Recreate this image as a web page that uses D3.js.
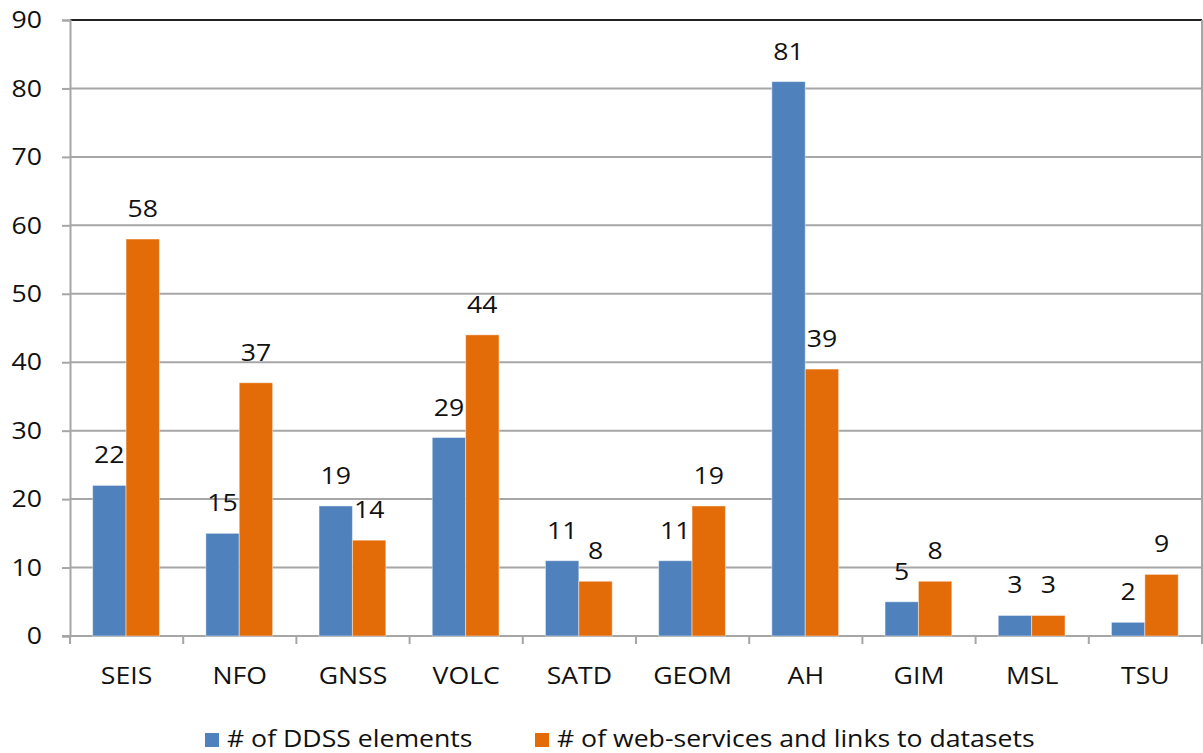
<!DOCTYPE html>
<html>
<head>
<meta charset="utf-8">
<script src="https://cdn.jsdelivr.net/npm/d3@7"></script>
<style>
  html, body { margin: 0; padding: 0; background: #fff; }
  svg text { font-family: "Open Sans", Lato, sans-serif; fill: #111; }
</style>
</head>
<body>
<svg id="chart" width="1203" height="753"></svg>
<script>
// Categories and series
const categories = ["SEIS", "NFO", "GNSS", "VOLC", "SATD", "GEOM", "AH", "GIM", "MSL", "TSU"];
const ddssElements = [22, 15, 19, 29, 11, 11, 81, 5, 3, 2];
const webServices = [58, 37, 14, 44, 8, 19, 39, 8, 3, 9];
const seriesNames = ["# of DDSS elements", "# of web-services and links to datasets"];
const seriesColors = ["#4F81BD", "#E36C09"];
const yTicks = [0, 10, 20, 30, 40, 50, 60, 70, 80, 90];

const fontSize = 24;
const widen = 1.11; // horizontal stretch of the lettering
const svg = d3.select("#chart");
const plotLeft = 70, plotRight = 1202, plotTop = 20, plotBottom = 636;

// Place a text at (px, py) and stretch it horizontally around its anchor
function placeText(sel, px, py) {
  sel.attr("x", 0).attr("y", 0)
    .attr("transform", (d, i) => `translate(${px(d, i)},${py(d, i)}) scale(${widen},1)`);
}

const x = d3.scaleBand().domain(categories).range([plotLeft, plotRight]).padding(0);
const bw = x.bandwidth();
const x1 = d3.scaleBand().domain([0, 1]).range([bw * 0.2, bw * 0.79]).padding(0);
const y = d3.scaleLinear().domain([0, 90]).range([plotBottom, plotTop]);

// Horizontal gridlines
svg.append("g").selectAll("line").data(yTicks.filter(t => t > 0)).join("line")
  .attr("x1", plotLeft).attr("x2", plotRight)
  .attr("y1", d => y(d)).attr("y2", d => y(d))
  .attr("stroke", d => d === 90 ? "#222" : "#a6a6a6")
  .attr("stroke-width", 2);

// Right border of the plot area
svg.append("line")
  .attr("x1", plotRight).attr("x2", plotRight).attr("y1", plotTop).attr("y2", plotBottom)
  .attr("stroke", "#a6a6a6").attr("stroke-width", 2);

// Y axis
const yAxis = svg.append("g").attr("transform", `translate(${plotLeft},0)`)
  .call(d3.axisLeft(y).tickValues(yTicks).tickSize(8).tickPadding(20));
yAxis.select(".domain").attr("stroke", "#a6a6a6").attr("stroke-width", 2);
yAxis.selectAll(".tick line").attr("stroke", "#a6a6a6").attr("stroke-width", 2);
yAxis.selectAll(".tick text").attr("font-size", fontSize).attr("fill", "#111")
  .style("font-family", "'Open Sans', sans-serif")
  .attr("transform", `translate(-28,0) scale(${widen},1)`).attr("x", 0);

// X axis with ticks at category boundaries
const xAxisG = svg.append("g");
xAxisG.append("line").attr("x1", plotLeft - 8).attr("x2", plotRight)
  .attr("y1", plotBottom).attr("y2", plotBottom)
  .attr("stroke", "#a6a6a6").attr("stroke-width", 2);
const boundaries = categories.map(c => x(c)).concat([plotRight]);
xAxisG.selectAll("line.tick").data(boundaries).join("line").attr("class", "tick")
  .attr("x1", d => d).attr("x2", d => d)
  .attr("y1", plotBottom).attr("y2", plotBottom + 8)
  .attr("stroke", "#a6a6a6").attr("stroke-width", 2);
xAxisG.selectAll("text").data(categories).join("text")
  .attr("text-anchor", "middle").attr("font-size", fontSize)
  .text(d => d)
  .call(placeText, d => x(d) + bw / 2, () => 684);

// Bars
const rows = categories.map((c, i) => ({ cat: c, vals: [ddssElements[i], webServices[i]] }));
const groups = svg.append("g").selectAll("g").data(rows).join("g")
  .attr("transform", d => `translate(${x(d.cat)},0)`);
groups.selectAll("rect").data(d => d.vals.map((v, k) => ({ v, k }))).join("rect")
  .attr("x", d => x1(d.k)).attr("width", x1.bandwidth())
  .attr("y", d => y(d.v)).attr("height", d => y(0) - y(d.v))
  .attr("fill", d => seriesColors[d.k])
  .attr("stroke", "rgba(255,255,255,0.45)").attr("stroke-width", 1);
groups.selectAll("text").data(d => d.vals.map((v, k) => ({ v, k }))).join("text")
  .attr("text-anchor", "middle").attr("font-size", fontSize)
  .text(d => d.v)
  .call(placeText, d => x1(d.k) + x1.bandwidth() / 2, d => y(d.v) - 22);

// Legend
const legendX = [205, 535];
const legend = svg.append("g").selectAll("g").data(seriesNames).join("g")
  .attr("transform", (d, i) => `translate(${legendX[i]},733)`);
legend.append("rect").attr("width", 14).attr("height", 14)
  .attr("fill", (d, i) => seriesColors[i]);
legend.append("text").attr("font-size", fontSize).text(d => d)
  .call(placeText, () => 22, () => 14);
</script>
</body>
</html>
